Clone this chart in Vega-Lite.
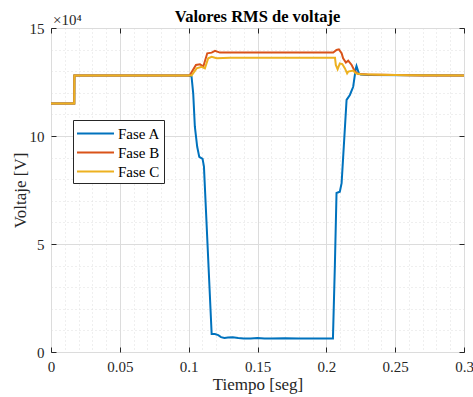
{
  "$schema": "https://vega.github.io/schema/vega-lite/v6.json",
  "width": 413,
  "height": 324,
  "autosize": {"type": "none"},
  "padding": {"left": 51, "top": 28, "right": 9, "bottom": 45},
  "background": "white",
  "config": {
    "font": "Liberation Serif",
    "text": {"font": "Liberation Serif"},
    "title": {"font": "Liberation Serif"},
    "legend": {"labelFont": "Liberation Serif", "titleFont": "Liberation Serif"},
    "view": {"stroke": "#262626", "strokeWidth": 1},
    "axis": {"labelFont": "Liberation Serif", "titleFont": "Liberation Serif", "labelColor": "#262626", "titleColor": "#262626", "domainColor": "#262626", "tickColor": "#262626"}
  },
  "title": {"text": "Valores RMS de voltaje", "fontSize": 16.5, "fontWeight": "bold", "font": "Liberation Serif", "color": "#000000", "offset": -12},
  "datasets": {
    "rms": [
      {"t": 0, "v": 115000, "fase": "Fase A"},
      {"t": 0.0169, "v": 115000, "fase": "Fase A"},
      {"t": 0.017, "v": 128000, "fase": "Fase A"},
      {"t": 0.1, "v": 128000, "fase": "Fase A"},
      {"t": 0.1021, "v": 127500, "fase": "Fase A"},
      {"t": 0.1033, "v": 119700, "fase": "Fase A"},
      {"t": 0.1045, "v": 104300, "fase": "Fase A"},
      {"t": 0.1062, "v": 95000, "fase": "Fase A"},
      {"t": 0.1077, "v": 90300, "fase": "Fase A"},
      {"t": 0.1101, "v": 89400, "fase": "Fase A"},
      {"t": 0.1111, "v": 85800, "fase": "Fase A"},
      {"t": 0.1167, "v": 8300, "fase": "Fase A"},
      {"t": 0.119, "v": 8300, "fase": "Fase A"},
      {"t": 0.1215, "v": 7800, "fase": "Fase A"},
      {"t": 0.1235, "v": 6900, "fase": "Fase A"},
      {"t": 0.126, "v": 6500, "fase": "Fase A"},
      {"t": 0.1285, "v": 6700, "fase": "Fase A"},
      {"t": 0.132, "v": 6800, "fase": "Fase A"},
      {"t": 0.136, "v": 6500, "fase": "Fase A"},
      {"t": 0.14, "v": 6300, "fase": "Fase A"},
      {"t": 0.145, "v": 6300, "fase": "Fase A"},
      {"t": 0.15, "v": 6500, "fase": "Fase A"},
      {"t": 0.155, "v": 6200, "fase": "Fase A"},
      {"t": 0.16, "v": 6300, "fase": "Fase A"},
      {"t": 0.17, "v": 6400, "fase": "Fase A"},
      {"t": 0.18, "v": 6300, "fase": "Fase A"},
      {"t": 0.19, "v": 6300, "fase": "Fase A"},
      {"t": 0.2, "v": 6300, "fase": "Fase A"},
      {"t": 0.2048, "v": 6300, "fase": "Fase A"},
      {"t": 0.2062, "v": 40000, "fase": "Fase A"},
      {"t": 0.2074, "v": 73600, "fase": "Fase A"},
      {"t": 0.2098, "v": 74200, "fase": "Fase A"},
      {"t": 0.2111, "v": 78200, "fase": "Fase A"},
      {"t": 0.2147, "v": 116700, "fase": "Fase A"},
      {"t": 0.2171, "v": 119000, "fase": "Fase A"},
      {"t": 0.2195, "v": 122800, "fase": "Fase A"},
      {"t": 0.2214, "v": 131300, "fase": "Fase A"},
      {"t": 0.2219, "v": 132400, "fase": "Fase A"},
      {"t": 0.2236, "v": 129000, "fase": "Fase A"},
      {"t": 0.225, "v": 128500, "fase": "Fase A"},
      {"t": 0.23, "v": 128200, "fase": "Fase A"},
      {"t": 0.3, "v": 128000, "fase": "Fase A"},
      {"t": 0, "v": 115000, "fase": "Fase B"},
      {"t": 0.0169, "v": 115000, "fase": "Fase B"},
      {"t": 0.017, "v": 128000, "fase": "Fase B"},
      {"t": 0.1, "v": 128000, "fase": "Fase B"},
      {"t": 0.1009, "v": 128200, "fase": "Fase B"},
      {"t": 0.1053, "v": 132900, "fase": "Fase B"},
      {"t": 0.1082, "v": 133200, "fase": "Fase B"},
      {"t": 0.1106, "v": 132100, "fase": "Fase B"},
      {"t": 0.1135, "v": 138300, "fase": "Fase B"},
      {"t": 0.1167, "v": 138600, "fase": "Fase B"},
      {"t": 0.1191, "v": 139400, "fase": "Fase B"},
      {"t": 0.1227, "v": 138600, "fase": "Fase B"},
      {"t": 0.15, "v": 138600, "fase": "Fase B"},
      {"t": 0.18, "v": 138600, "fase": "Fase B"},
      {"t": 0.205, "v": 138600, "fase": "Fase B"},
      {"t": 0.2074, "v": 139800, "fase": "Fase B"},
      {"t": 0.2091, "v": 140100, "fase": "Fase B"},
      {"t": 0.2111, "v": 138300, "fase": "Fase B"},
      {"t": 0.2122, "v": 136000, "fase": "Fase B"},
      {"t": 0.2142, "v": 134000, "fase": "Fase B"},
      {"t": 0.2159, "v": 134900, "fase": "Fase B"},
      {"t": 0.2184, "v": 132900, "fase": "Fase B"},
      {"t": 0.2208, "v": 129800, "fase": "Fase B"},
      {"t": 0.2232, "v": 128700, "fase": "Fase B"},
      {"t": 0.23, "v": 128500, "fase": "Fase B"},
      {"t": 0.25, "v": 128200, "fase": "Fase B"},
      {"t": 0.27, "v": 128000, "fase": "Fase B"},
      {"t": 0.3, "v": 128000, "fase": "Fase B"},
      {"t": 0, "v": 115000, "fase": "Fase C"},
      {"t": 0.0169, "v": 115000, "fase": "Fase C"},
      {"t": 0.017, "v": 128000, "fase": "Fase C"},
      {"t": 0.1, "v": 128000, "fase": "Fase C"},
      {"t": 0.1021, "v": 128000, "fase": "Fase C"},
      {"t": 0.1058, "v": 131300, "fase": "Fase C"},
      {"t": 0.1094, "v": 132000, "fase": "Fase C"},
      {"t": 0.1118, "v": 131300, "fase": "Fase C"},
      {"t": 0.1142, "v": 136000, "fase": "Fase C"},
      {"t": 0.1167, "v": 136700, "fase": "Fase C"},
      {"t": 0.1203, "v": 136000, "fase": "Fase C"},
      {"t": 0.13, "v": 136200, "fase": "Fase C"},
      {"t": 0.18, "v": 136200, "fase": "Fase C"},
      {"t": 0.2063, "v": 136200, "fase": "Fase C"},
      {"t": 0.2069, "v": 132900, "fase": "Fase C"},
      {"t": 0.2082, "v": 130900, "fase": "Fase C"},
      {"t": 0.2098, "v": 133600, "fase": "Fase C"},
      {"t": 0.2116, "v": 133300, "fase": "Fase C"},
      {"t": 0.2135, "v": 131300, "fase": "Fase C"},
      {"t": 0.2151, "v": 129000, "fase": "Fase C"},
      {"t": 0.2159, "v": 129800, "fase": "Fase C"},
      {"t": 0.2195, "v": 130300, "fase": "Fase C"},
      {"t": 0.2214, "v": 129000, "fase": "Fase C"},
      {"t": 0.225, "v": 128600, "fase": "Fase C"},
      {"t": 0.24, "v": 128300, "fase": "Fase C"},
      {"t": 0.26, "v": 128100, "fase": "Fase C"},
      {"t": 0.3, "v": 128000, "fase": "Fase C"}
    ],
    "exp": [{"t": 0, "v": 150000, "label": "×10⁴"}]
  },
  "layer": [
    {
      "data": {"name": "rms"},
      "mark": {"type": "line", "strokeWidth": 2, "interpolate": "linear"},
      "encoding": {
        "x": {
          "field": "t", "type": "quantitative",
          "scale": {"domain": [0, 0.3], "nice": false, "zero": false},
          "axis": {
            "title": "Tiempo [seg]", "titleFontSize": 17, "titleFontWeight": "normal", "titlePadding": -3, "titleFont": "Liberation Serif",
            "values": [0,0.01,0.02,0.03,0.04,0.05,0.06,0.07,0.08,0.09,0.1,0.11,0.12,0.13,0.14,0.15,0.16,0.17,0.18,0.19,0.2,0.21,0.22,0.23,0.24,0.25,0.26,0.27,0.28,0.29,0.3],
            "labelExpr": "abs(datum.value*20-round(datum.value*20))<0.001 ? format(round(datum.value*100)/100, '~g') : ''",
            "labelFont": "Liberation Serif", "labelFontSize": 15, "labelPadding": 12, "labelFlush": false, "labelOverlap": false,
            "grid": true,
            "gridColor": {"condition": {"test": "abs(datum.value*20-round(datum.value*20))<0.001", "value": "#dcdcdc"}, "value": "#dedede"},
            "gridDash": {"condition": {"test": "abs(datum.value*20-round(datum.value*20))<0.001", "value": []}, "value": [1, 3]},
            "tickSize": {"condition": {"test": "abs(datum.value*20-round(datum.value*20))<0.001", "value": -5}, "value": 0},
            "domain": false
          }
        },
        "y": {
          "field": "v", "type": "quantitative",
          "scale": {"domain": [0, 150000], "nice": false},
          "axis": {
            "title": "Voltaje [V]", "titleFontSize": 17, "titleFontWeight": "normal", "titlePadding": 0, "titleFont": "Liberation Serif",
            "values": [0,10000,20000,30000,40000,50000,60000,70000,80000,90000,100000,110000,120000,130000,140000,150000],
            "labelExpr": "datum.value % 50000 == 0 ? format(datum.value/10000, 'd') : ''",
            "labelFont": "Liberation Serif", "labelFontSize": 15, "labelPadding": 12, "labelFlush": false, "labelOverlap": false,
            "grid": true,
            "gridColor": {"condition": {"test": "datum.value % 50000 == 0", "value": "#dcdcdc"}, "value": "#dedede"},
            "gridDash": {"condition": {"test": "datum.value % 50000 == 0", "value": []}, "value": [1, 3]},
            "tickSize": {"condition": {"test": "datum.value % 50000 == 0", "value": -5}, "value": 0},
            "domain": false
          }
        },
        "color": {
          "field": "fase", "type": "nominal",
          "scale": {"domain": ["Fase A", "Fase B", "Fase C"], "range": ["#0072BD", "#D95319", "#EDB120"]},
          "legend": {
            "title": null, "orient": "none", "legendX": 22, "legendY": 92,
            "symbolType": "M-2,0H2", "symbolSize": 342, "symbolStrokeWidth": 2,
            "symbolOffset": 9, "labelOffset": 12,
            "labelFont": "Liberation Serif", "labelFontSize": 15, "labelColor": "#000000",
            "fillColor": "white", "strokeColor": "#262626", "padding": 3, "rowPadding": 0
          }
        }
      }
    },
    {
      "data": {"name": "exp"},
      "mark": {"type": "text", "align": "left", "baseline": "alphabetic", "dx": 2, "dy": -3, "fontSize": 15, "font": "Liberation Serif", "color": "#262626"},
      "encoding": {
        "x": {"field": "t", "type": "quantitative", "axis": {"orient": "top", "values": [0,0.05,0.1,0.15,0.2,0.25,0.3], "labels": false, "grid": false, "domain": false, "tickSize": -5, "title": null}},
        "y": {"field": "v", "type": "quantitative", "axis": {"orient": "right", "values": [0,50000,100000,150000], "labels": false, "grid": false, "domain": false, "tickSize": -5, "title": null}},
        "text": {"field": "label"}
      }
    }
  ],
  "resolve": {"axis": {"x": "independent", "y": "independent"}}
}
